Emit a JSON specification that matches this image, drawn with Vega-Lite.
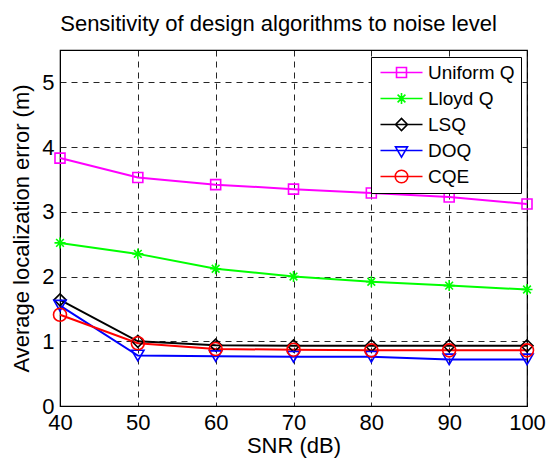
{
  "$schema": "https://vega.github.io/schema/vega-lite/v6.json",
  "width": 467,
  "height": 356,
  "autosize": "none",
  "padding": {"left": 60, "top": 50, "right": 22, "bottom": 53},
  "background": "white",
  "config": {
    "font": "Liberation Sans",
    "view": {"stroke": "black", "strokeWidth": 1.2},
    "axis": {
      "labelFont": "Liberation Sans",
      "labelFontSize": 22,
      "labelColor": "black",
      "titleFont": "Liberation Sans",
      "titleFontSize": 22,
      "titleFontWeight": "normal",
      "titleColor": "black",
      "domainColor": "black",
      "ticks": false,
      "grid": true,
      "gridColor": "black",
      "gridDash": [6, 5],
      "gridWidth": 1,
      "gridOpacity": 0.85
    }
  },
  "title": {
    "text": "Sensitivity of design algorithms to noise level",
    "font": "Liberation Sans",
    "fontSize": 22,
    "fontWeight": "normal",
    "color": "black",
    "offset": 14,
    "dx": -15
  },
  "data": {
    "values": [
      {"snr": 40, "err": 3.83, "series": "Uniform Q"},
      {"snr": 50, "err": 3.53, "series": "Uniform Q"},
      {"snr": 60, "err": 3.42, "series": "Uniform Q"},
      {"snr": 70, "err": 3.35, "series": "Uniform Q"},
      {"snr": 80, "err": 3.29, "series": "Uniform Q"},
      {"snr": 90, "err": 3.23, "series": "Uniform Q"},
      {"snr": 100, "err": 3.12, "series": "Uniform Q"},
      {"snr": 40, "err": 2.52, "series": "Lloyd Q"},
      {"snr": 50, "err": 2.35, "series": "Lloyd Q"},
      {"snr": 60, "err": 2.12, "series": "Lloyd Q"},
      {"snr": 70, "err": 2.0, "series": "Lloyd Q"},
      {"snr": 80, "err": 1.92, "series": "Lloyd Q"},
      {"snr": 90, "err": 1.86, "series": "Lloyd Q"},
      {"snr": 100, "err": 1.8, "series": "Lloyd Q"},
      {"snr": 40, "err": 1.64, "series": "LSQ"},
      {"snr": 50, "err": 1.0, "series": "LSQ"},
      {"snr": 60, "err": 0.94, "series": "LSQ"},
      {"snr": 70, "err": 0.93, "series": "LSQ"},
      {"snr": 80, "err": 0.93, "series": "LSQ"},
      {"snr": 90, "err": 0.93, "series": "LSQ"},
      {"snr": 100, "err": 0.93, "series": "LSQ"},
      {"snr": 40, "err": 1.55, "series": "DOQ"},
      {"snr": 50, "err": 0.78, "series": "DOQ"},
      {"snr": 60, "err": 0.77, "series": "DOQ"},
      {"snr": 70, "err": 0.76, "series": "DOQ"},
      {"snr": 80, "err": 0.76, "series": "DOQ"},
      {"snr": 90, "err": 0.72, "series": "DOQ"},
      {"snr": 100, "err": 0.72, "series": "DOQ"},
      {"snr": 40, "err": 1.41, "series": "CQE"},
      {"snr": 50, "err": 0.97, "series": "CQE"},
      {"snr": 60, "err": 0.88, "series": "CQE"},
      {"snr": 70, "err": 0.87, "series": "CQE"},
      {"snr": 80, "err": 0.86, "series": "CQE"},
      {"snr": 90, "err": 0.86, "series": "CQE"},
      {"snr": 100, "err": 0.86, "series": "CQE"}
    ]
  },
  "encoding": {
    "x": {
      "field": "snr",
      "type": "quantitative",
      "title": "SNR (dB)",
      "scale": {"domain": [40, 100], "nice": false, "zero": false},
      "axis": {"values": [40, 50, 60, 70, 80, 90, 100], "labelPadding": 6, "titlePadding": 2, "labelFlush": false}
    },
    "y": {
      "field": "err",
      "type": "quantitative",
      "title": "Average localization error (m)",
      "scale": {"domain": [0, 5.5], "nice": false},
      "axis": {"values": [0, 1, 2, 3, 4, 5], "labelPadding": 6, "titlePadding": 8}
    }
  },
  "layer": [
    {
      "mark": {"type": "line", "strokeWidth": 2},
      "encoding": {
        "color": {
          "field": "series",
          "type": "nominal",
          "scale": {"domain": ["Uniform Q", "Lloyd Q", "LSQ", "DOQ", "CQE"], "range": ["#ff00ff", "#00ff00", "#000000", "#0000ff", "#ff0000"]},
          "legend": null
        }
      }
    },
    {
      "transform": [{"filter": "datum.series === 'Uniform Q'"}],
      "mark": {"type": "point", "shape": "square", "size": 100, "filled": false, "strokeWidth": 1.6, "opacity": 1},
      "encoding": {"color": {"field": "series", "type": "nominal", "legend": null}}
    },
    {
      "transform": [{"filter": "datum.series === 'Lloyd Q'"}],
      "mark": {"type": "point", "shape": "M-1,0H1M0,-1V1M-0.7,-0.7L0.7,0.7M-0.7,0.7L0.7,-0.7", "size": 121, "filled": false, "strokeWidth": 1.6, "opacity": 1},
      "encoding": {"color": {"field": "series", "type": "nominal", "legend": null}}
    },
    {
      "transform": [{"filter": "datum.series === 'LSQ'"}],
      "mark": {"type": "point", "shape": "diamond", "size": 144, "filled": false, "strokeWidth": 1.6, "opacity": 1},
      "encoding": {"color": {"field": "series", "type": "nominal", "legend": null}}
    },
    {
      "transform": [{"filter": "datum.series === 'DOQ'"}],
      "mark": {"type": "point", "shape": "triangle-down", "size": 150, "filled": false, "strokeWidth": 1.6, "opacity": 1},
      "encoding": {"color": {"field": "series", "type": "nominal", "legend": null}}
    },
    {
      "transform": [{"filter": "datum.series === 'CQE'"}],
      "mark": {"type": "point", "shape": "circle", "size": 169, "filled": false, "strokeWidth": 1.6, "opacity": 1},
      "encoding": {"color": {"field": "series", "type": "nominal", "legend": null}}
    },
    {
      "mark": {"type": "point", "filled": false, "opacity": 0, "size": 144},
      "encoding": {
        "color": {
          "field": "series",
          "type": "nominal",
          "legend": {
            "orient": "none", "legendX": 311, "legendY": 7, "title": null,
            "strokeColor": "black", "fillColor": "white", "padding": 6, "cornerRadius": 0,
            "labelFont": "Liberation Sans", "labelFontSize": 19, "labelColor": "black",
            "symbolSize": 144, "symbolStrokeWidth": 1.6, "symbolOpacity": 1, "symbolFillColor": "transparent",
            "rowPadding": 6, "labelOffset": 17, "symbolOffset": 15
          }
        },
        "shape": {
          "field": "series",
          "type": "nominal",
          "scale": {
            "domain": ["Uniform Q", "Lloyd Q", "LSQ", "DOQ", "CQE"],
            "range": [
              "M-3.5,0H3.5M-0.83,-0.83H0.83V0.83H-0.83Z",
              "M-3.5,0H3.5M-0.9,0H0.9M0,-0.9V0.9M-0.65,-0.65L0.65,0.65M-0.65,0.65L0.65,-0.65",
              "M-3.5,0H3.5M-1,0L0,-1L1,0L0,1Z",
              "M-3.5,0H3.5M-1,-0.6H1L0,1.1Z",
              "M-3.5,0H3.5M-1.05,0A1.05,1.05,0,1,0,1.05,0A1.05,1.05,0,1,0,-1.05,0Z"
            ]
          },
          "legend": {
            "orient": "none", "legendX": 311, "legendY": 7, "title": null,
            "strokeColor": "black", "fillColor": "white", "padding": 6, "cornerRadius": 0,
            "labelFont": "Liberation Sans", "labelFontSize": 19, "labelColor": "black",
            "symbolSize": 144, "symbolStrokeWidth": 1.6, "symbolOpacity": 1, "symbolFillColor": "transparent",
            "rowPadding": 6, "labelOffset": 17, "symbolOffset": 15
          }
        }
      }
    }
  ],
  "resolve": {"legend": {"color": "independent", "shape": "independent"}}
}
